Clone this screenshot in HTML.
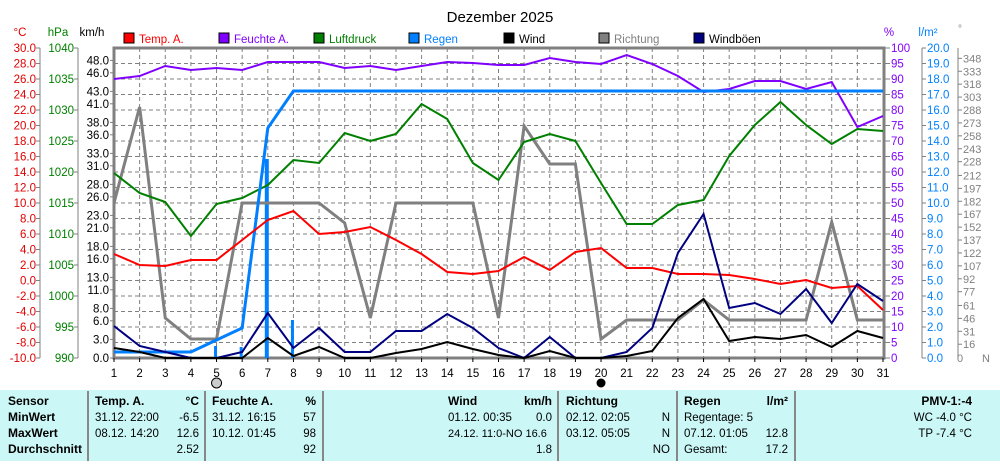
<!DOCTYPE html><html><head><meta charset="utf-8"><style>
body{margin:0;background:#fff;width:1000px;height:461px;overflow:hidden;font-family:"Liberation Sans",sans-serif}
svg text{font-family:"Liberation Sans",sans-serif}
</style></head><body>
<svg id="s" width="1000" height="461" xmlns="http://www.w3.org/2000/svg"></svg>
<script>
const s=document.getElementById('s');let h='';
const X=d=>114+(d-1)*25.633;
const T=(x,y,t,c,a,fs,w)=>h+=`<text x="${x}" y="${y}" fill="${c}" font-size="${fs||11.5}" text-anchor="${a||'start'}"${w?' font-weight="bold"':''}>${t}</text>`;
const L=(x1,y1,x2,y2,c,w,da)=>h+=`<line x1="${x1}" y1="${y1}" x2="${x2}" y2="${y2}" stroke="${c}" stroke-width="${w||1}"${da?` stroke-dasharray="${da}"`:''}/>`;
T(500,22,'Dezember 2025','#000','middle',15);
for(let i=1;i<20;i++){let y=48+i*15.5;L(114,y,884,y,'#808080',1,'4,3');}
for(let d=2;d<31;d++)L(X(d),48,X(d),358,'#808080',1,'4,3');
h+=`<rect x="114" y="48" width="770" height="310" fill="none" stroke="#808080" stroke-width="3"/>`;
T(20,36,'°C','#e00000','middle');T(58,36,'hPa','#008000','middle');T(92,36,'km/h','#000','middle');
L(40,48,40,358,'#808080');L(78,48,78,358,'#808080');
for(let i=0;i<=20;i++){let y=48+i*15.5,v=(30-2*i).toFixed(1);T(36,y+4,v,'#e00000','end');L(36,y,40,y,'#808080');}
for(let i=0;i<=10;i++){let y=48+i*31;T(74,y+4,990+50-5*i,'#008000','end');L(74,y,78,y,'#808080');}
[48,46,43,41,38,36,33,31,28,26,23,21,18,16,13,11,8,6,3,0].forEach(v=>{let y=358-v*6.2;T(109,y+4,v.toFixed(1),'#000','end');L(110,y,114,y,'#808080');});
T(889,36,'%','#8000ff','middle');T(928,36,'l/m²','#0080ff','middle');T(960,32,'°','#808080','middle',10);
L(922,48,922,358,'#808080');L(958,48,958,358,'#808080');
for(let i=0;i<=20;i++){let y=48+i*15.5;T(891,y+4,100-5*i,'#8000ff','start',11.5);L(884,y,890,y,'#808080');T(927,y+4,(20-i).toFixed(1),'#0080ff','start',11.5);L(922,y,926,y,'#808080');}
[348,333,318,303,288,273,258,243,228,212,197,182,167,152,137,122,107,92,77,61,46,31,16].forEach(v=>{let y=358-v*310/360;T(963,y+4,v,'#808080','start',11);L(958,y,962,y,'#808080');});
T(960,362,'0','#808080','middle',11);T(986,362,'N','#808080','middle',11);
[[124,'#ff0000','Temp. A.'],[219,'#8000ff','Feuchte A.'],[314,'#008000','Luftdruck'],[409,'#0080ff','Regen'],[504,'#000','Wind'],[599,'#808080','Richtung'],[694,'#000080','Windböen']].forEach(([x,c,t])=>{h+=`<rect x="${x}" y="33" width="10" height="10" fill="${c}" stroke="#000"/>`;T(x+15,43,t,c==='#000080'?'#000':c);});
for(let d=1;d<=31;d++){T(X(d),377,d,'#000','middle');L(X(d),358,X(d),362,'#000');}
h+=`<circle cx="${X(5)}" cy="383" r="5" fill="#ccc" stroke="#000"/><circle cx="${X(20)}" cy="383" r="4.5" fill="#000"/>`;
const P=(a,c,w)=>h+=`<polyline fill="none" stroke="${c}" stroke-width="${w}" points="${a.map((y,i)=>X(i+1)+','+y).join(' ')}"/>`;
[[5,346],[6,347],[7,159],[8,320]].forEach(([d,y])=>L(X(d)-1,y,X(d)-1,358,'#0080ff',d==7?4:3));
P([203,107,318,339,339,203,203,203,203,223,318,203,203,203,203,318,126,164,164,339,320,320,320,300,320,320,320,320,222,320,320],'#808080',3);
P([173,193,202,236,204,198,185,160,163,133,141,134,104,119,163,180,142,134,141,183,224,224,205,200,156,125,102,125,144,129,131],'#008000',2);
P([79,76,66,70,68,70,62,62,62,68,66,70,66,62,63,65,65,58,62,64,55,64,76,92,89,81,81,89,82,127,116],'#8000ff',2);
P([352,352,352,352,340,328,128,91,91,91,91,91,91,91,91,91,91,91,91,91,91,91,91,91,91,91,91,91,91,91,91],'#0080ff',3);
P([254,265,266,260,260,240,220,211,234,232,227,240,254,272,274,271,257,270,252,248,268,268,274,274,275,279,284,280,288,286,310],'#ff0000',2);
P([326,346,352,358,358,352,313,348,328,352,352,331,331,314,328,348,358,337,358,358,352,328,253,214,308,303,314,289,323,284,301],'#000080',2);
P([348,352,358,358,358,358,338,356,347,358,358,353,349,342,349,355,358,351,358,358,356,351,318,299,341,337,339,335,347,331,338],'#000',2);
h+=`<rect x="0" y="390" width="1000" height="71" fill="#ccf7f7"/>`;
[88,205,323,558,677,795].forEach(x=>L(x,391,x,461,'#888',2));
const R=[405,421,437,453];
['Sensor','MinWert','MaxWert','Durchschnitt'].forEach((t,i)=>T(8,R[i],t,'#000','start',12,1));
T(95,R[0],'Temp. A.','#000','start',12,1);T(199,R[0],'°C','#000','end',12,1);
T(95,R[1],'31.12.  22:00');T(199,R[1],'-6.5','#000','end');T(95,R[2],'08.12.  14:20');T(199,R[2],'12.6','#000','end');T(199,R[3],'2.52','#000','end');
T(212,R[0],'Feuchte A.','#000','start',12,1);T(316,R[0],'%','#000','end',12,1);
T(212,R[1],'31.12.  16:15');T(316,R[1],'57','#000','end');T(212,R[2],'10.12.  01:45');T(316,R[2],'98','#000','end');T(316,R[3],'92','#000','end');
T(448,R[0],'Wind','#000','start',12,1);T(552,R[0],'km/h','#000','end',12,1);
T(448,R[1],'01.12.  00:35');T(552,R[1],'0.0','#000','end');T(448,R[2],'24.12.  11:0-NO 16.6','#000','start',11);T(552,R[3],'1.8','#000','end');
T(566,R[0],'Richtung','#000','start',12,1);T(566,R[1],'02.12.  02:05');T(670,R[1],'N','#000','end');T(566,R[2],'03.12.  05:05');T(670,R[2],'N','#000','end');T(670,R[3],'NO','#000','end');
T(684,R[0],'Regen','#000','start',12,1);T(788,R[0],'l/m²','#000','end',12,1);T(684,R[1],'Regentage: 5');T(684,R[2],'07.12.  01:05');T(788,R[2],'12.8','#000','end');T(684,R[3],'Gesamt:');T(788,R[3],'17.2','#000','end');
T(972,R[0],'PMV-1:-4','#000','end',12,1);T(972,R[1],'WC -4.0 °C','#000','end');T(972,R[2],'TP -7.4 °C','#000','end');
s.innerHTML=h;
</script></body></html>
